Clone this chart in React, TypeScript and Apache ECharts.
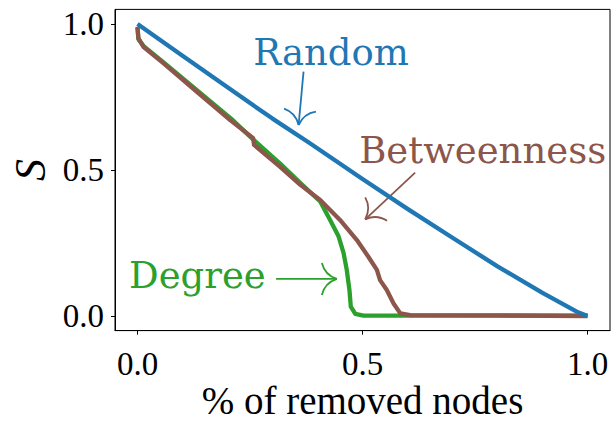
import React, { useEffect, useRef } from "react";
import * as echarts from "echarts";

// ---- data (fraction of removed nodes vs. relative size of giant component S) ----
const randomX = [0, 0.1, 0.2, 0.3, 0.384, 0.5, 0.6, 0.7, 0.8, 0.9, 0.976, 1.0];
const randomY = [1.0, 0.891, 0.783, 0.676, 0.591, 0.469, 0.367, 0.268, 0.17, 0.079, 0.015, 0.0];

const betweennessX = [0, 0.002, 0.013, 0.058, 0.132, 0.206, 0.257, 0.259, 0.317, 0.362, 0.406, 0.45, 0.4875, 0.513, 0.532, 0.539, 0.554, 0.569, 0.584, 0.606, 0.8, 1.0];
const betweennessY = [0.99, 0.951, 0.922, 0.865, 0.768, 0.671, 0.609, 0.586, 0.511, 0.449, 0.397, 0.329, 0.26, 0.203, 0.158, 0.123, 0.089, 0.043, 0.009, 0.003, 0.002, 0.0];

const degreeX = [0, 0.002, 0.015, 0.06, 0.134, 0.208, 0.258, 0.317, 0.362, 0.406, 0.428, 0.447, 0.458, 0.465, 0.471, 0.474, 0.484, 0.502, 0.62, 1.0];
const degreeY = [0.987, 0.948, 0.922, 0.866, 0.771, 0.676, 0.603, 0.522, 0.455, 0.392, 0.329, 0.272, 0.215, 0.158, 0.089, 0.032, 0.007, 0.001, 0.001, 0.001];

const tickValues = [0, 0.5, 1.0];
const xTitle = "% of removed nodes";
const yTitle = "S";

// annotations: label text, label centre (data coords), arrow tail & tip (data coords)
const annLabels = ["Random", "Betweenness", "Degree"];
const annColors = ["#1f77b4", "#8c564b", "#2ca02c"];
const annTextPos = [[0.43, 0.901], [0.767, 0.567], [0.133, 0.139]];
const annTail = [[0.369, 0.837], [0.617, 0.491], [0.308, 0.127]];
const annTip = [[0.358, 0.654], [0.506, 0.331], [0.443, 0.127]];

const zip = (xs: number[], ys: number[]) => xs.map((x, i) => [x, ys[i]]);

export default function App() {
  const ref = useRef<HTMLDivElement>(null);
  useEffect(() => {
    if (!ref.current) return;
    const chart = echarts.init(ref.current, null, { renderer: "svg" });
    const tickFont = { fontFamily: "Liberation Serif", fontSize: 33, color: "#000" };
    const line = (name: string, xs: number[], ys: number[], color: string) => ({
      name,
      type: "line",
      data: zip(xs, ys),
      showSymbol: false,
      symbol: "none",
      lineStyle: { color, width: 4.3, join: "round" },
      itemStyle: { color },
      silent: true,
    });
    chart.setOption({
      animation: false,
      backgroundColor: "#fff",
      grid: {
        left: 115, top: 9.4, width: 495, height: 321.2,
        outerBoundsMode: "none", containLabel: false,
        show: true, borderColor: "#000", borderWidth: 1, backgroundColor: "transparent",
      },
      xAxis: {
        type: "value",
        min: -0.05,
        max: 1.05,
        splitLine: { show: false },
        axisLine: { show: true, onZero: false, lineStyle: { color: "#000", width: 1 } },
        axisTick: { show: true, length: 4, lineStyle: { color: "#000" }, customValues: tickValues },
        axisLabel: { ...tickFont, margin: 17, customValues: tickValues, formatter: (v: number) => v.toFixed(1) },
      },
      yAxis: {
        type: "value",
        min: -0.05,
        max: 1.05,
        splitLine: { show: false },
        axisLine: { show: true, onZero: false, lineStyle: { color: "#000", width: 1 } },
        axisTick: { show: true, length: 4, lineStyle: { color: "#000" }, customValues: tickValues },
        axisLabel: { ...tickFont, margin: 11, customValues: tickValues, formatter: (v: number) => v.toFixed(1) },
      },
      series: [
        line("Degree", degreeX, degreeY, "#2ca02c"),
        line("Betweenness", betweennessX, betweennessY, "#8c564b"),
        line("Random", randomX, randomY, "#1f77b4"),
      ],
    });

    const toPx = (p: number[]) => chart.convertToPixel({ gridIndex: 0 }, p) as number[];
    const graphics: any[] = [];
    // axis titles
    const xMid = toPx([0.5, -0.05]);
    graphics.push({
      type: "text",
      x: xMid[0],
      y: xMid[1] + 70,
      silent: true,
      style: { text: xTitle, fill: "#000", font: "39px 'Liberation Serif'", align: "center", verticalAlign: "middle" },
    });
    const sPos = toPx([-0.05, 0.5]);
    graphics.push({
      type: "text",
      x: sPos[0] - 85,
      y: sPos[1],
      rotation: Math.PI / 2,
      silent: true,
      style: { text: yTitle, fill: "#000", font: "italic 44px 'Liberation Serif'", align: "center", verticalAlign: "middle" },
    });
    annLabels.forEach((label, i) => {
      const color = annColors[i];
      const tp = toPx(annTextPos[i]);
      graphics.push({
        type: "text",
        x: tp[0],
        y: tp[1],
        silent: true,
        style: { text: label, fill: color, font: "37px 'DejaVu Serif'", align: "center", verticalAlign: "middle" },
      });
      const a = toPx(annTail[i]);
      const b = toPx(annTip[i]);
      const dx = b[0] - a[0];
      const dy = b[1] - a[1];
      const len = Math.hypot(dx, dy);
      const d = [dx / len, dy / len];
      const n = [-d[1], d[0]];
      const lw = 1.8;
      graphics.push({
        type: "line",
        silent: true,
        shape: { x1: a[0], y1: a[1], x2: b[0], y2: b[1] },
        style: { stroke: color, lineWidth: lw },
      });
      [1, -1].forEach((s) => {
        const ex = b[0] - 15 * d[0] + s * 16 * n[0];
        const ey = b[1] - 15 * d[1] + s * 16 * n[1];
        const cx = b[0] - 12 * d[0] + s * 4 * n[0];
        const cy = b[1] - 12 * d[1] + s * 4 * n[1];
        graphics.push({
          type: "bezierCurve",
          silent: true,
          shape: { x1: ex, y1: ey, x2: b[0], y2: b[1], cpx1: cx, cpy1: cy },
          style: { stroke: color, lineWidth: lw, fill: "none" },
        });
      });
    });
    chart.setOption({ graphic: graphics });

    return () => chart.dispose();
  }, []);
  return <div ref={ref} style={{ position: "fixed", left: 0, top: 0, width: 613, height: 423 }} />;
}
